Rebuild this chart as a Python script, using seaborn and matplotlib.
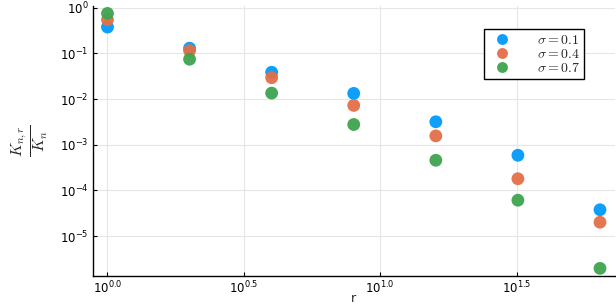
import numpy as np
import pandas as pd
import matplotlib
matplotlib.use("Agg")
import matplotlib.pyplot as plt
import seaborn as sns
from matplotlib.font_manager import FontProperties
from matplotlib.ticker import FixedLocator, FixedFormatter

r_values = [1, 2, 4, 8, 16, 32, 64]
sigma_labels = [r"$\sigma = 0.1$", r"$\sigma = 0.4$", r"$\sigma = 0.7$"]
ratio_s01 = [0.377, 0.130, 0.0386, 0.0133, 0.00318, 0.000588, 3.77e-5]
ratio_s04 = [0.545, 0.115, 0.0294, 0.00726, 0.00156, 0.000180, 2.01e-5]
ratio_s07 = [0.750, 0.0745, 0.0135, 0.00277, 0.000457, 6.1e-5, 1.96e-6]
colors = ["#009AFA", "#E36F47", "#3EA44E"]
xtick_exps = [0.0, 0.5, 1.0, 1.5]
ytick_exps = [0, -1, -2, -3, -4, -5]

rows = []
for lab, vals in zip(sigma_labels, [ratio_s01, ratio_s04, ratio_s07]):
    for r, v in zip(r_values, vals):
        rows.append({"r": r, "ratio": v, "sigma": lab})
df = pd.DataFrame(rows)

sns.set_style("white")
plt.rcParams["font.family"] = ["DejaVu Sans"]

fig = plt.figure(figsize=(6.16, 3.04), dpi=100)
ax = fig.add_axes([0.1505, 0.092, 0.998 - 0.1505, 0.981 - 0.092])

sns.scatterplot(data=df, x="r", y="ratio", hue="sigma", palette=colors,
                s=85, linewidth=0, alpha=0.95, ax=ax, zorder=3)
ax.set_xscale("log")
ax.set_yscale("log")

lx = np.log10(r_values)
mx = 0.03 * (lx.max() - lx.min())
ax.set_xlim(10 ** (lx.min() - mx), 10 ** (lx.max() + mx))
ally = np.log10(np.concatenate([ratio_s01, ratio_s04, ratio_s07]))
my = 0.03 * (ally.max() - ally.min())
ax.set_ylim(10 ** (ally.min() - my), 10 ** (ally.max() + my))

ax.xaxis.set_major_locator(FixedLocator([10 ** e for e in xtick_exps]))
ax.xaxis.set_major_formatter(FixedFormatter([r"$\mathregular{10^{%.1f}}$" % e for e in xtick_exps]))
ax.xaxis.set_minor_locator(FixedLocator([]))
ax.yaxis.set_major_locator(FixedLocator([10.0 ** e for e in ytick_exps]))
ax.yaxis.set_major_formatter(FixedFormatter([r"$\mathregular{10^{%d}}$" % e for e in ytick_exps]))
ax.yaxis.set_minor_locator(FixedLocator([]))

ax.grid(True, color="#e6e6e6", linewidth=0.8, zorder=0)
ax.set_axisbelow(True)
for s in ["top", "right"]:
    ax.spines[s].set_visible(False)
for s in ["left", "bottom"]:
    ax.spines[s].set_color("black")
    ax.spines[s].set_linewidth(1.0)
ax.tick_params(axis="both", direction="in", length=3, width=0.8, labelsize=8.5,
               colors="black", left=True, bottom=True, pad=3)

ax.set_xlabel("r", fontsize=9, labelpad=-3.5)
ax.set_ylabel(r"$\frac{K_{n,r}}{K_n}$", fontsize=16, labelpad=7,
              math_fontfamily="cm")

leg_prop = FontProperties(size=10, math_fontfamily="cm")
leg = ax.legend(loc="upper right", bbox_to_anchor=(0.955, 0.94), prop=leg_prop,
                frameon=True, fancybox=False, edgecolor="black",
                handletextpad=1.5, borderpad=0.3, labelspacing=0.0, markerscale=0.85)
leg.get_frame().set_linewidth(1.0)
leg.get_frame().set_alpha(1)

fig.savefig("out.png", dpi=100)
